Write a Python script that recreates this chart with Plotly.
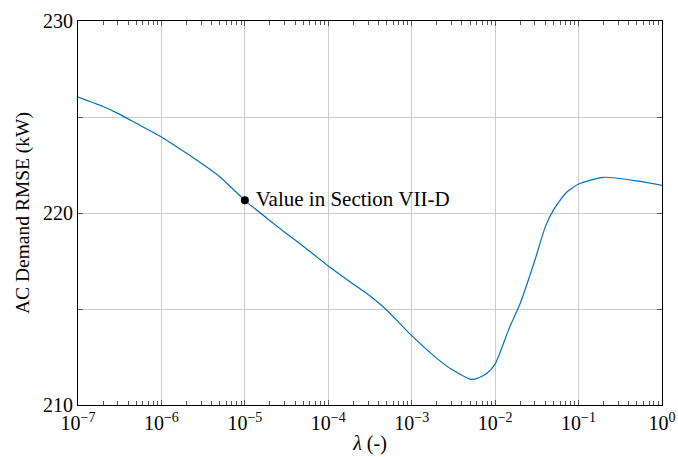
import plotly.graph_objects as go

# data
lam = [1e-7, 2e-7, 3e-7, 5e-7, 1e-6, 2e-6, 3e-6, 5e-6, 1e-5, 2e-5, 3e-5, 5e-5,
       1e-4, 2e-4, 3e-4, 5e-4, 1e-3,
       2e-3, 3e-3, 5e-3, 6e-3, 7e-3, 8e-3, 1e-2, 1.5e-2, 2e-2, 3e-2, 4e-2, 5e-2,
       7e-2, 1e-1, 2e-1, 5e-1, 1.0]
rmse = [226.04, 225.55, 225.19, 224.67, 223.96, 223.11, 222.59, 221.89, 220.66, 219.6,
        219.0, 218.27, 217.24, 216.29, 215.75, 214.95, 213.61,
        212.43, 211.86, 211.35, 211.37, 211.51, 211.65, 212.14, 214.08,
        215.3, 217.55, 219.29, 220.16, 221.03, 221.51, 221.86, 221.67, 221.44]

marker_x = [1e-5]
marker_y = [220.66]
marker_label = "Value in Section VII-D"

x_tick_vals = [1e-7, 1e-6, 1e-5, 1e-4, 1e-3, 1e-2, 1e-1, 1.0]
x_tick_text = ["10<sup>−7</sup>", "10<sup>−6</sup>", "10<sup>−5</sup>", "10<sup>−4</sup>",
               "10<sup>−3</sup>", "10<sup>−2</sup>", "10<sup>−1</sup>", "10<sup>0</sup>"]
y_tick_vals = [210, 215, 220, 225, 230]
y_tick_text = ["210", "", "220", "", "230"]

minor_vals = [m * 10.0 ** e for e in range(-7, 0) for m in range(2, 10)]

FONT = "Liberation Serif"

fig = go.Figure()
fig.add_trace(go.Scatter(x=lam, y=rmse, mode="lines",
                         line=dict(color="#0072BD", width=1.2, shape="spline", smoothing=0.6),
                         showlegend=False))
fig.add_trace(go.Scatter(x=marker_x, y=marker_y, mode="markers+text",
                         marker=dict(color="black", size=8),
                         text=[" " + marker_label], textposition="middle right",
                         textfont=dict(family=FONT, size=21, color="black"),
                         showlegend=False))

fig.update_layout(
    width=678, height=457,
    margin=dict(l=78, r=16, t=21, b=52),
    paper_bgcolor="white", plot_bgcolor="white",
    font=dict(family=FONT, size=20, color="black"),
    xaxis=dict(type="log", range=[-7, 0], tickmode="array", tickvals=x_tick_vals,
               ticktext=x_tick_text, showgrid=True, gridcolor="#cccccc", gridwidth=1,
               showline=True, linecolor="black", linewidth=1, mirror="ticks",
               ticks="inside", ticklen=5, tickcolor="#555555",
               minor=dict(tickmode="array", tickvals=minor_vals, ticks="inside",
                          ticklen=4, tickcolor="#555555", showgrid=False),
               title=dict(text="<i>λ</i> (-)", standoff=2, font=dict(size=20)),
               tickfont=dict(size=20), zeroline=False, automargin=False),
    yaxis=dict(range=[210, 230], tickmode="array", tickvals=y_tick_vals,
               ticktext=y_tick_text, showgrid=True, gridcolor="#cccccc", gridwidth=1,
               showline=True, linecolor="black", linewidth=1, mirror="ticks",
               ticks="inside", ticklen=5, tickcolor="#555555",
               title=dict(text="AC Demand RMSE (kW)", standoff=8, font=dict(size=19.5)),
               tickfont=dict(size=20), zeroline=False, automargin=False),
)

fig.write_html("out.html", config={"displayModeBar": False},
               post_script="document.body.style.margin='0px';document.body.style.overflow='hidden';")
